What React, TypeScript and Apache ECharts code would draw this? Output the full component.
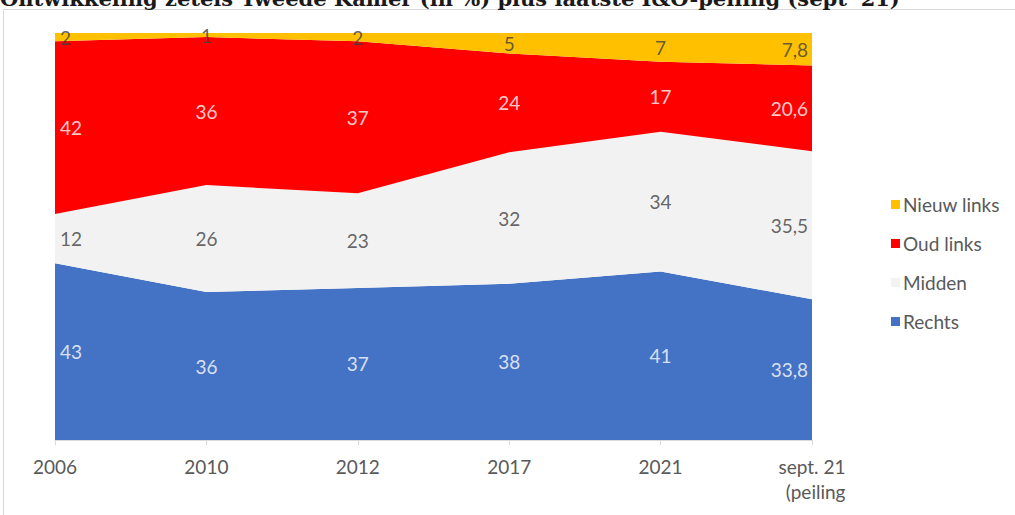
import React, { useEffect, useRef } from "react";
import * as echarts from "echarts";

const categories = ["2006", "2010", "2012", "2017", "2021", "sept. 21\n(peiling"];
const rechts = [43, 36, 37, 38, 41, 33.8];
const midden = [12, 26, 23, 32, 34, 35.5];
const oudLinks = [42, 36, 37, 24, 17, 20.6];
const nieuwLinks = [2, 1, 2, 5, 7, 7.8];

const seriesNames = ["Rechts", "Midden", "Oud links", "Nieuw links"];
const seriesColors = ["#4472C4", "#F2F2F2", "#FF0000", "#FFC000"];
const labelColors = ["#FFFFFF", "#404040", "#FFFFFF", "#404040"];
const titleText = "Ontwikkeling zetels Tweede Kamer (in %) plus laatste I&O-peiling (sept '21)";

const FONT = "Lato";

export default function App() {
  const ref = useRef<HTMLDivElement>(null);
  useEffect(() => {
    document.body.style.margin = "0";
    if (!ref.current) return;
    const chart = echarts.init(ref.current, null, { renderer: "svg" });
    const groups = [rechts, midden, oudLinks, nieuwLinks];
    const totals = categories.map((_, i) => groups.reduce((s, g) => s + g[i], 0));
    const pct = groups.map((g) => g.map((v, i) => (v / totals[i]) * 100));
    const n = categories.length;

    const areaSeries = groups.map((g, k) => ({
      name: seriesNames[k],
      type: "line",
      stack: "total",
      data: pct[k],
      symbol: "none",
      lineStyle: { width: 0 },
      areaStyle: { color: seriesColors[k], opacity: 1 },
      itemStyle: { color: seriesColors[k] },
      z: 2,
    }));

    const labelSeries = groups.map((g, k) => ({
      name: "lbl" + k,
      type: "scatter",
      symbol: "circle",
      symbolSize: 1,
      itemStyle: { color: "rgba(0,0,0,0)" },
      z: 5,
      silent: true,
      data: pct[k].map((p, i) => {
        let below = 0;
        for (let j = 0; j < k; j++) below += pct[j][i];
        const item: any = { value: below + p / 2 };
        if (i === 0) item.label = { align: "left", offset: [5, 0] };
        if (i === n - 1) item.label = { align: "right", offset: [-4, 0] };
        return item;
      }),
      label: {
        show: true,
        position: "inside",
        color: labelColors[k],
        fontFamily: FONT,
        fontSize: 19,
        formatter: (p: any) => String(g[p.dataIndex]).replace(".", ","),
      },
    }));

    const axisRich = {
      a: { color: "#595959", fontFamily: FONT, fontSize: 19, lineHeight: 25, align: "right" },
      b: { color: "#595959", fontFamily: FONT, fontSize: 19, lineHeight: 25, align: "right" },
    };

    chart.setOption({
      animation: false,
      backgroundColor: "#FFFFFF",
      grid: { left: 55, right: 203, top: 33, bottom: 75 },
      legend: {
        data: ["Nieuw links", "Oud links", "Midden", "Rechts"],
        orient: "vertical",
        left: 886,
        top: 190,
        icon: "rect",
        itemWidth: 9,
        itemHeight: 9,
        itemGap: 20,
        textStyle: { color: "#595959", fontFamily: FONT, fontSize: 19, padding: [0, 0, 0, -2] },
        selectedMode: false,
      },
      xAxis: {
        type: "category",
        data: categories,
        boundaryGap: false,
        axisLine: { lineStyle: { color: "#D9D9D9", width: 1 } },
        axisTick: { show: true, length: 5, lineStyle: { color: "#D9D9D9" } },
        axisLabel: {
          color: "#595959",
          fontFamily: FONT,
          fontSize: 19,
          margin: 14,
          lineHeight: 25,
          rich: axisRich,
          formatter: (v: string) => {
            if (v.indexOf("\n") < 0) return v;
            const parts = v.split("\n");
            return "{a|" + parts[0] + "}\n{b|" + parts[1] + "}";
          },
        },
        z: 10,
      },
      yAxis: { type: "value", min: 0, max: 100, show: false },
      series: [...areaSeries, ...labelSeries],
      graphic: [
        {
          type: "rect",
          shape: { x: 3.5, y: 9.5, width: 1100, height: 600 },
          style: { fill: "none", stroke: "#D9D9D9", lineWidth: 1 },
          silent: true,
          z: -1,
        },
        {
          type: "text",
          x: 0,
          y: 9,
          style: {
            text: titleText,
            fontFamily: "DejaVu Serif",
            fontWeight: "bold",
            fontSize: 21,
            fill: "#1a1a1a",
            verticalAlign: "bottom",
          },
          silent: true,
        },
      ],
    });
    return () => chart.dispose();
  }, []);
  return (
    <div
      ref={ref}
      style={{ position: "absolute", left: 0, top: 0, width: 1015, height: 515 }}
    />
  );
}
